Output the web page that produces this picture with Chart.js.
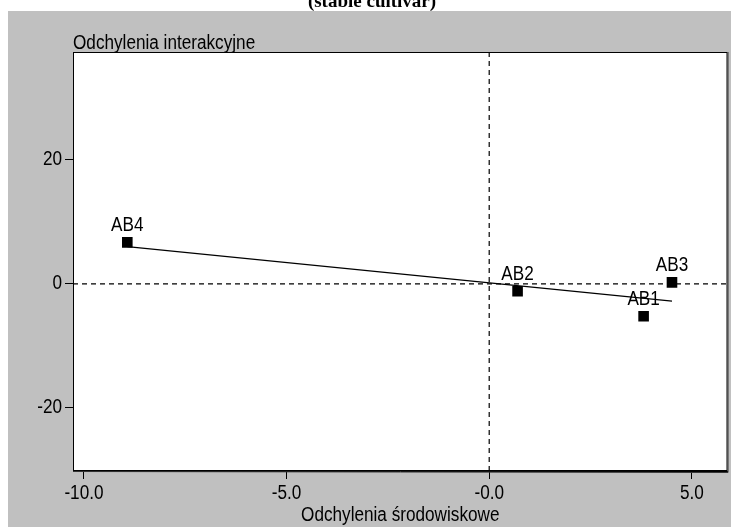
<!DOCTYPE html>
<html>
<head>
<meta charset="utf-8">
<script src="https://cdn.jsdelivr.net/npm/chart.js@4/dist/chart.umd.min.js"></script>
<style>
html,body{margin:0;padding:0;background:#fff;overflow:hidden;}
canvas{display:block;}
</style>
</head>
<body>
<canvas id="c" width="735" height="527"></canvas>
<script>
// ---- data ----
const pointLabels = ['AB1', 'AB2', 'AB3', 'AB4'];
const envDev = [3.81, 0.70, 4.51, -8.93];      // Odchylenia środowiskowe (x)
const intDev = [-5.24, -1.2, 0.24, 6.69];      // Odchylenia interakcyjne (y)
const trendX = [-8.93, 4.51];
const trendY = [6.0, -2.8];
const xTicks = [-10, -5, 0, 5];
const xTickLabels = ['-10.0', '-5.0', '-0.0', '5.0'];
const yTicks = [-20, 0, 20];
const yTickLabels = ['-20', '0', '20'];
const xRange = [-10.27, 5.88];
const yRange = [-30.2, 37.4];
const titleText = '(stable cultivar)';
const xTitle = 'Odchylenia środowiskowe';
const yTitle = 'Odchylenia interakcyjne';

const FONT = '"Liberation Sans", Arial, sans-serif';
const TXT_SIZE = 19.5;
const SQUEEZE = 0.88;

function narrowText(ctx, text, x, y, align, baseline) {
  ctx.save();
  ctx.font = TXT_SIZE + 'px ' + FONT;
  ctx.textAlign = align;
  ctx.textBaseline = baseline;
  ctx.translate(x, y);
  ctx.scale(SQUEEZE, 1);
  ctx.fillText(text, 0, 0);
  ctx.restore();
}

const bgPlugin = {
  id: 'bg',
  beforeDraw(chart) {
    const ctx = chart.ctx;
    ctx.save();
    ctx.fillStyle = '#ffffff';
    ctx.fillRect(0, 0, chart.width, chart.height);
    ctx.fillStyle = '#c0c0c0';
    ctx.fillRect(8, 11, chart.width - 8, chart.height - 11);
    const a = chart.chartArea;
    ctx.fillStyle = '#ffffff';
    ctx.fillRect(a.left, a.top, a.right - a.left, a.bottom - a.top);
    // cut title
    ctx.beginPath();
    ctx.rect(0, 0, chart.width, 11);
    ctx.clip();
    ctx.fillStyle = '#000';
    ctx.font = 'bold 19px "Liberation Serif", "Times New Roman", serif';
    ctx.textAlign = 'center';
    ctx.textBaseline = 'alphabetic';
    ctx.fillText(titleText, 372, 7);
    ctx.restore();
  },
  afterDatasetsDraw(chart) {
    const ctx = chart.ctx;
    const a = chart.chartArea;
    const xs = chart.scales.x, ys = chart.scales.y;
    ctx.save();
    ctx.fillStyle = '#000';
    pointLabels.forEach((lab, i) => {
      narrowText(ctx, lab, xs.getPixelForValue(envDev[i]), ys.getPixelForValue(intDev[i]) - 17, 'center', 'middle');
    });
    // frame
    ctx.strokeStyle = '#000';
    ctx.lineWidth = 1;
    ctx.strokeRect(a.left + 0.5, a.top + 0.5, a.right - a.left - 1, a.bottom - a.top - 1);
    ctx.strokeStyle = '#333';
    ctx.beginPath();
    ctx.moveTo(a.right + 0.5, a.top);
    ctx.lineTo(a.right + 0.5, a.bottom + 1.5);
    ctx.lineTo(a.left, a.bottom + 0.5);
    ctx.stroke();
    // tick labels
    ctx.fillStyle = '#000';
    xTicks.forEach((v, i) => {
      narrowText(ctx, xTickLabels[i], xs.getPixelForValue(v), 499, 'center', 'alphabetic');
    });
    yTicks.forEach((v, i) => {
      narrowText(ctx, yTickLabels[i], 62, ys.getPixelForValue(v), 'right', 'middle');
    });
    // axis titles
    narrowText(ctx, yTitle, a.left, 49, 'left', 'alphabetic');
    narrowText(ctx, xTitle, (a.left + a.right) / 2, 521, 'center', 'alphabetic');
    ctx.restore();
  }
};

const zeroV = [{x: 0, y: yRange[0]}, {x: 0, y: yRange[1]}];
const zeroH = [{x: xRange[0], y: 0}, {x: xRange[1], y: 0}];

new Chart(document.getElementById('c'), {
  type: 'scatter',
  data: {
    datasets: [
      {
        data: envDev.map((x, i) => ({x, y: intDev[i]})),
        pointStyle: 'rect',
        pointRadius: 7.5,
        backgroundColor: '#000',
        borderColor: '#000',
        borderWidth: 0,
        showLine: false
      },
      {
        data: trendX.map((x, i) => ({x, y: trendY[i]})),
        showLine: true,
        borderColor: '#000',
        borderWidth: 1.2,
        pointRadius: 0
      },
      {
        data: zeroV,
        showLine: true,
        borderColor: '#000',
        borderWidth: 1.2,
        borderDash: [5, 4],
        pointRadius: 0
      },
      {
        data: zeroH,
        showLine: true,
        borderColor: '#000',
        borderWidth: 1.2,
        borderDash: [5, 4],
        pointRadius: 0
      }
    ]
  },
  options: {
    responsive: false,
    animation: false,
    events: [],
    layout: {padding: {left: 0, top: 52, right: 0, bottom: 0}},
    plugins: {legend: {display: false}, tooltip: {enabled: false}, title: {display: false}},
    scales: {
      x: {
        type: 'linear',
        min: xRange[0], max: xRange[1],
        afterBuildTicks(s) { s.ticks = xTicks.map(v => ({value: v})); },
        afterFit(s) { s.height = 56; s.paddingLeft = 0; s.paddingRight = 0; },
        ticks: {display: false},
        grid: {drawOnChartArea: false, drawTicks: true, tickLength: 8, color: '#000', lineWidth: 1},
        border: {display: true, color: '#000', width: 1}
      },
      y: {
        type: 'linear',
        min: yRange[0], max: yRange[1],
        afterBuildTicks(s) { s.ticks = yTicks.map(v => ({value: v})); },
        afterFit(s) { s.width = 73; s.paddingTop = 0; s.paddingBottom = 0; },
        ticks: {display: false},
        grid: {drawOnChartArea: false, drawTicks: true, tickLength: 8, color: '#000', lineWidth: 1},
        border: {display: true, color: '#000', width: 1}
      }
    }
  },
  plugins: [bgPlugin]
});
</script>
</body>
</html>
